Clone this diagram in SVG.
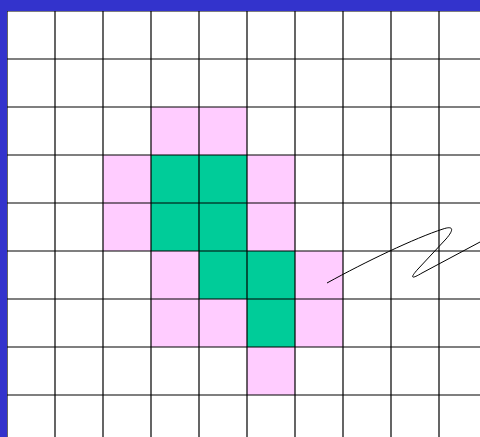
<svg xmlns="http://www.w3.org/2000/svg" width="480" height="437" viewBox="0 0 480 437">
<style>
.pk{fill:#ffccff}
.gr{fill:#00cc99}
.gl{stroke:#000;stroke-width:1.2;fill:none}
.cv{stroke:#000;stroke-width:1;fill:none}
</style>
<rect x="0" y="0" width="480" height="437" fill="#fff"/>
<g id="cells">
<rect class="pk" x="151" y="107" width="96" height="48"/>
<rect class="pk" x="103" y="155" width="48" height="96"/>
<rect class="gr" x="151" y="155" width="96" height="96"/>
<rect class="pk" x="247" y="155" width="48" height="96"/>
<rect class="pk" x="151" y="251" width="48" height="96"/>
<rect class="gr" x="199" y="251" width="96" height="48"/>
<rect class="pk" x="295" y="251" width="48" height="96"/>
<rect class="pk" x="199" y="299" width="48" height="48"/>
<rect class="gr" x="247" y="299" width="48" height="48"/>
<rect class="pk" x="247" y="347" width="48" height="48"/>
</g>
<g id="grid" class="gl">
<path d="M7,11V437M55,11V437M103,11V437M151,11V437M199,11V437M247,11V437M295,11V437M343,11V437M391,11V437M439,11V437"/>
<path d="M7,11H480M7,59H480M7,107H480M7,155H480M7,203H480M7,251H480M7,299H480M7,347H480M7,395H480"/>
</g>
<g id="curve">
<path class="cv" d="M327,283 C365,262 415,238 443,229 C455,225 453,231 446,239 L418,269 C409,279 412,279 422,273 L480,242"/>
</g>
<g id="border">
<rect x="0" y="0" width="480" height="11" fill="#3333cc"/>
<rect x="0" y="0" width="7" height="437" fill="#3333cc"/>
</g>
</svg>
